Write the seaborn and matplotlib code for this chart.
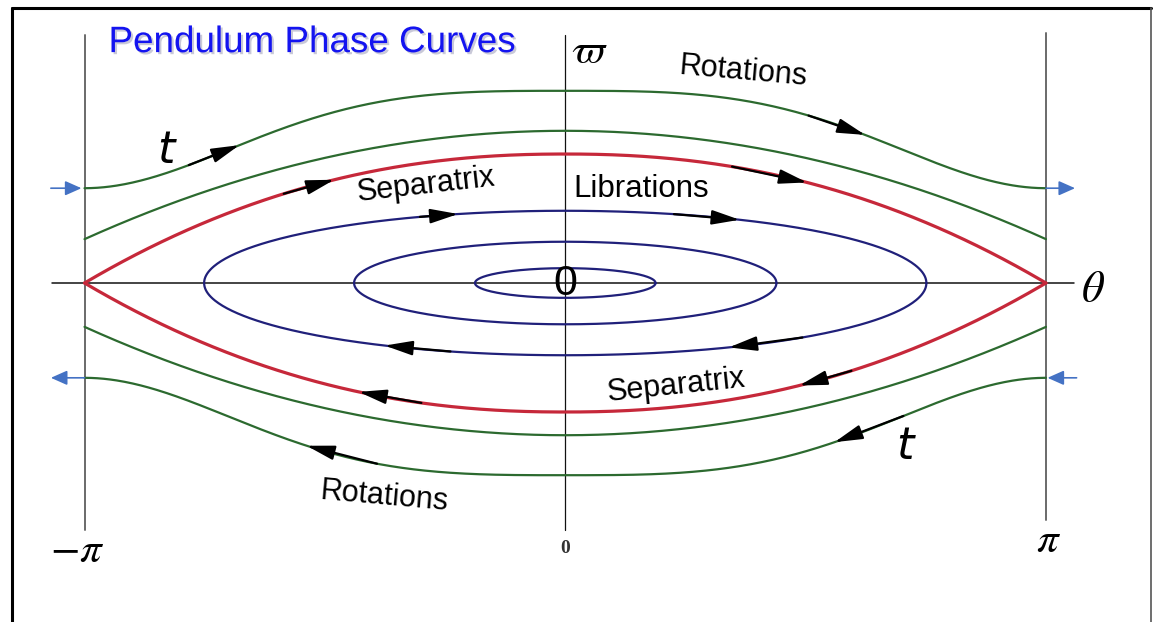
import numpy as np
import pandas as pd
import seaborn as sns
import matplotlib
matplotlib.use("Agg")
import matplotlib.pyplot as plt
import matplotlib.patheffects as pe
from matplotlib.lines import Line2D

# ---- curve parameters (theta in rad, omega in scaled units) ----
LIB_AMPLITUDE = [0.59, 1.38, 2.36]      # half-width of each libration loop
LIB_PEAK = [0.23, 0.64, 1.12]           # omega at theta = 0
SEP_PEAK = 2.0                          # separatrix height at theta = 0
ROT_PEAK = [2.98, 2.36]                 # rotation curves: omega at theta = 0
ROT_EDGE = [1.47, 0.68]                 # rotation curves: omega at theta = +-pi
ROT_SHAPE = ["sigmoid", "parabolic"]

FAMILY_COLORS = {"rotation": "#2c6a2f", "separatrix": "#c6283a", "libration": "#20207a"}
FAMILY_WIDTHS = {"rotation": 1.6, "separatrix": 2.3, "libration": 1.6}

PI = np.pi


def rotation_omega(theta, i):
    u = np.abs(theta) / PI
    if ROT_SHAPE[i] == "sigmoid":
        f = (1 + np.cos(PI * u ** 1.6)) / 2
    else:
        f = 1 - u ** 2
    return ROT_EDGE[i] + (ROT_PEAK[i] - ROT_EDGE[i]) * f


def separatrix_omega(theta):
    u = np.abs(theta) / PI
    return SEP_PEAK * (1 - u ** 2.2)


def libration_omega(theta, i):
    a = LIB_AMPLITUDE[i]
    return LIB_PEAK[i] * np.sqrt(np.clip(1 - (theta / a) ** 2, 0, None))


def point_on(kind, i, theta, sign):
    if kind == "rotation":
        return theta, sign * rotation_omega(theta, i)
    if kind == "separatrix":
        return theta, sign * separatrix_omega(theta)
    return theta, sign * libration_omega(theta, i)


# ---- build the phase-curve table ----
rows = []
th = np.linspace(-PI, PI, 600)
for i in range(len(ROT_PEAK)):
    for sign in (1, -1):
        for t, w in zip(th, sign * rotation_omega(th, i)):
            rows.append(("rotation", f"rot{i}{sign}", t, w))
for sign in (1, -1):
    for t, w in zip(th, sign * separatrix_omega(th)):
        rows.append(("separatrix", f"sep{sign}", t, w))
tt = np.linspace(0, 2 * PI, 500)
for i in range(len(LIB_AMPLITUDE)):
    for t, w in zip(LIB_AMPLITUDE[i] * np.cos(tt), LIB_PEAK[i] * np.sin(tt)):
        rows.append(("libration", f"lib{i}", t, w))
df = pd.DataFrame(rows, columns=["family", "curve", "theta", "omega"])

sns.set_theme(style="white")
plt.rcParams["mathtext.fontset"] = "stix"
plt.rcParams["text.color"] = "black"

fig = plt.figure(figsize=(11.53, 6.22), dpi=100)
ax = fig.add_axes([0, 0, 1, 1])
ax.set_xlim(-3.694, 3.841)
ax.set_ylim(-5.256, 4.388)
ax.axis("off")

# axes of the phase plane
ax.plot([-PI, -PI], [-3.83, 3.845], color="#6a6a6a", lw=1.4, zorder=1)
ax.plot([PI, PI], [-3.67, 3.87], color="#6a6a6a", lw=1.4, zorder=1)
ax.plot([0, 0], [-3.83, 3.845], color="#111111", lw=0.9, zorder=1)
ax.plot([-3.357, 3.325], [0, 0], color="#111111", lw=1.1, zorder=1)

sns.lineplot(data=df, x="theta", y="omega", hue="family", size="family",
             units="curve", estimator=None, sort=False,
             palette=FAMILY_COLORS, sizes=FAMILY_WIDTHS, legend=False, ax=ax,
             zorder=2)

# direction-of-motion arrows along the curves: (family, index, tail, head, branch)
FLOW_ARROWS = [
    ("rotation", 0, -2.46, -2.13, 1),
    ("rotation", 0, 1.59, 1.96, 1),
    ("separatrix", 0, -1.84, -1.51, 1),
    ("separatrix", 0, 1.09, 1.58, 1),
    ("libration", 2, -0.95, -0.70, 1),
    ("libration", 2, 0.71, 1.14, 1),
    ("libration", 2, -0.75, -1.18, -1),
    ("libration", 2, 1.55, 1.07, -1),
    ("separatrix", 0, -0.94, -1.35, -1),
    ("separatrix", 0, 1.87, 1.53, -1),
    ("rotation", 0, -1.23, -1.69, -1),
    ("rotation", 0, 2.21, 1.76, -1),
]
for kind, i, t0, t1, sgn in FLOW_ARROWS:
    ax.annotate("", xy=point_on(kind, i, t1, sgn), xytext=point_on(kind, i, t0, sgn),
                arrowprops=dict(arrowstyle="-|>,head_length=0.85,head_width=0.22",
                                color="black", lw=1.6, shrinkA=0, shrinkB=0,
                                mutation_scale=20), zorder=4)

# wrap-around markers at theta = +-pi
edge = ROT_EDGE[0]
side_arrow = dict(arrowstyle="-|>,head_length=0.9,head_width=0.4", color="#4472c4",
                  lw=1.2, shrinkA=0, shrinkB=0, mutation_scale=11)
ax.annotate("", xy=(-PI - 0.02, edge), xytext=(-PI - 0.22, edge), arrowprops=side_arrow)
ax.annotate("", xy=(PI + 0.19, edge), xytext=(PI + 0.0, edge), arrowprops=side_arrow)
ax.annotate("", xy=(-PI - 0.22, -edge), xytext=(-PI - 0.0, -edge), arrowprops=side_arrow)
ax.annotate("", xy=(PI + 0.01, -edge), xytext=(PI + 0.20, -edge), arrowprops=side_arrow)

# labels
sans = "Liberation Sans"
ink = "black"
ax.text(-2.985, 3.58, "Pendulum Phase Curves", family=sans, fontsize=26.5,
        color="#1414f0", ha="left", va="baseline",
        path_effects=[pe.SimplePatchShadow(offset=(1.5, -1.5), shadow_rgbFace="#8888aa", alpha=0.45),
                      pe.Normal()])
ax.text(1.165, 3.27, "Rotations", family=sans, fontsize=22, rotation=-5, color=ink,
        ha="center", va="center", rotation_mode="anchor")
ax.text(-1.18, -3.32, "Rotations", family=sans, fontsize=22, rotation=-5, color=ink,
        ha="center", va="center", rotation_mode="anchor")
ax.text(-0.91, 1.52, "Separatrix", family=sans, fontsize=22, rotation=6.5, color=ink,
        ha="center", va="center", rotation_mode="anchor")
ax.text(0.725, -1.6, "Separatrix", family=sans, fontsize=22, rotation=6, color=ink,
        ha="center", va="center", rotation_mode="anchor")
ax.text(0.05, 1.46, "Librations", family=sans, fontsize=22.5, color=ink,
        ha="left", va="center")
ax.text(-2.61, 2.06, "t", family="DejaVu Sans", style="italic", fontsize=32, color=ink,
        ha="center", va="center")
ax.text(2.22, -2.53, "t", family="DejaVu Sans", style="italic", fontsize=32, color=ink,
        ha="center", va="center")
ax.text(0.0, -0.02, "0", family=sans, fontsize=31, color=ink, ha="center", va="center")
ax.text(0.155, 3.6, r"$\varpi$", fontsize=30, color=ink, ha="center", va="center")
ax.text(3.45, -0.1, r"$\theta$", fontsize=32, color=ink, ha="center", va="center")
ax.text(-3.19, -4.14, r"$-\pi$", fontsize=31, color=ink, ha="center", va="center")
ax.text(3.16, -3.98, r"$\pi$", fontsize=31, color=ink, ha="center", va="center")
ax.text(0.0, -4.12, "0", family="Liberation Serif", fontsize=14, fontweight="bold",
        color="#333333", ha="center", va="center")

# frame around the figure
W, H = 1153, 622
fig.add_artist(Line2D([12 / W, 12 / W], [0, 1 - 7.5 / H], color="black", lw=2.2,
                      transform=fig.transFigure))
fig.add_artist(Line2D([12 / W, 1151 / W], [1 - 7.5 / H, 1 - 7.5 / H], color="black", lw=2.2,
                      transform=fig.transFigure))
fig.add_artist(Line2D([1151 / W, 1151 / W], [0, 1 - 7.5 / H], color="#555555", lw=1.2,
                      transform=fig.transFigure))

fig.savefig("out.png", dpi=100)
